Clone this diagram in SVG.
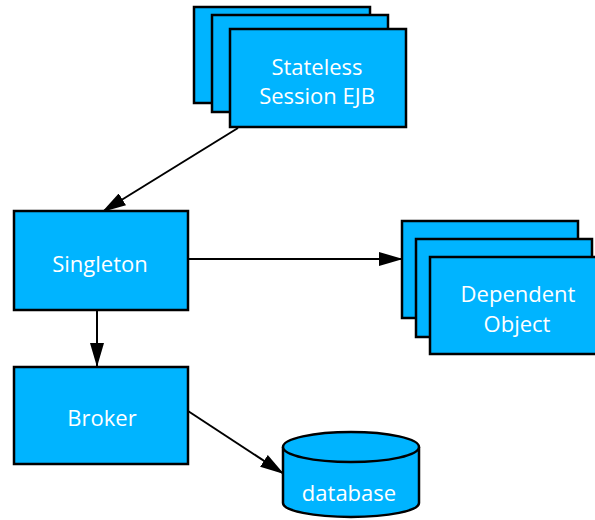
<svg xmlns="http://www.w3.org/2000/svg" width="595" height="520" viewBox="0 0 595 520">
  <style>
    .box { fill: #00b4ff; stroke: #000; stroke-width: 2.5; }
    .lbl { fill: #fff; font-family: "Open Sans", "Liberation Sans", sans-serif; font-size: 22px; text-anchor: middle; }
    .edge { stroke: #000; stroke-width: 2; fill: none; marker-end: url(#arrow); }
  </style>
  <defs>
    <marker id="arrow" viewBox="0 0 24 14" refX="24" refY="7" markerWidth="24" markerHeight="14" markerUnits="userSpaceOnUse" orient="auto">
      <path d="M0,0 L24,7 L0,14 Z" fill="#000"/>
    </marker>
  </defs>

  <rect width="595" height="520" fill="#fff"/>

  <g id="connectors">
    <line class="edge" x1="238" y1="128" x2="102" y2="212"/>
    <line class="edge" x1="188" y1="259" x2="403" y2="259"/>
    <line class="edge" x1="97" y1="310" x2="97" y2="367"/>
    <line class="edge" x1="188" y1="411" x2="284" y2="474"/>
  </g>

  <g id="stateless-session-ejb">
    <rect class="box" x="194" y="7" width="176" height="96"/>
    <rect class="box" x="212" y="15" width="176" height="97"/>
    <rect class="box" x="230" y="29" width="176" height="98"/>
    <text class="lbl" x="317" y="75">Stateless</text>
    <text class="lbl" x="317" y="104">Session EJB</text>
  </g>

  <g id="singleton">
    <rect class="box" x="14" y="211" width="174" height="99"/>
    <text class="lbl" x="100" y="272">Singleton</text>
  </g>

  <g id="dependent-object">
    <rect class="box" x="402" y="221" width="176" height="97"/>
    <rect class="box" x="416" y="239" width="176" height="98"/>
    <rect class="box" x="430" y="257" width="176" height="97"/>
    <text class="lbl" x="518" y="302">Dependent</text>
    <text class="lbl" x="517" y="332">Object</text>
  </g>

  <g id="broker">
    <rect class="box" x="14" y="367" width="174" height="97"/>
    <text class="lbl" x="102" y="426">Broker</text>
  </g>

  <g id="database">
    <path class="box" d="M283,447 L283,503 A68,14 0 0 0 419,503 L419,447"/>
    <ellipse class="box" cx="351" cy="447" rx="68" ry="15"/>
    <text class="lbl" x="349" y="501">database</text>
  </g>
</svg>
